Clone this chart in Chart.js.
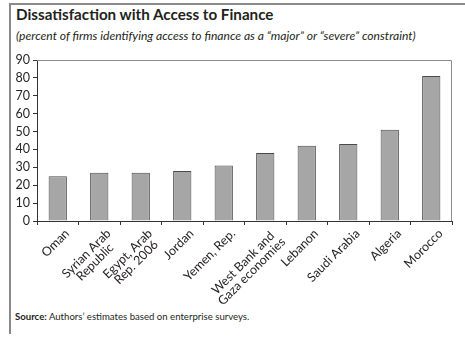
<!DOCTYPE html>
<html>
<head>
<meta charset="utf-8">
<script src="https://cdn.jsdelivr.net/npm/chart.js@4/dist/chart.umd.min.js"></script>
<style>
  html, body { margin: 0; padding: 0; background: #fff; }
  #wrap { position: relative; width: 465px; height: 341px; overflow: hidden; font-family: Lato, "Open Sans", sans-serif; color: #231f20; }
  #frameTop { position: absolute; left: 9px; top: 3px; width: 460px; height: 2px; background: #8a8a8a; }
  #frameLeft { position: absolute; left: 9px; top: 3px; width: 2px; height: 331px; background: #8a8a8a; }
  #title { position: absolute; left: 16px; top: 5px; font-weight: bold; font-size: 15.2px; white-space: nowrap; }
  #subtitle { position: absolute; left: 16px; top: 28px; font-style: italic; font-size: 12.1px; white-space: nowrap; }
  #source { position: absolute; left: 15px; top: 311px; font-size: 9.6px; white-space: nowrap; }
  canvas { position: absolute; left: 0; top: 0; }
</style>
</head>
<body>
<div id="wrap">
  <div id="frameTop"></div>
  <div id="frameLeft"></div>
  <div id="title">Dissatisfaction with Access to Finance</div>
  <div id="subtitle">(percent of firms identifying access to finance as a “major” or “severe” constraint)</div>
  <div id="source"><b>Source:</b> Authors’ estimates based on enterprise surveys.</div>
  <canvas id="c" width="465" height="341"></canvas>
</div>
<script>
const categories = [
  "Oman",
  ["Syrian Arab", "Republic"],
  ["Egypt, Arab", "Rep. 2006"],
  "Jordan",
  "Yemen, Rep.",
  ["West Bank and", "Gaza economies"],
  "Lebanon",
  "Saudi Arabia",
  "Algeria",
  "Morocco"
];
const values = [25, 27, 27, 28, 31, 38, 42, 43, 51, 81];
const yTicks = [0, 10, 20, 30, 40, 50, 60, 70, 80, 90];

const LABEL_FONT = '12.5px Lato, "Open Sans", sans-serif';

const frame = {
  id: 'frame',
  afterDraw(chart) {
    const a = chart.chartArea, ctx = chart.ctx;
    ctx.save();
    ctx.strokeStyle = '#8c8c8c';
    ctx.lineWidth = 1;
    ctx.beginPath();
    ctx.moveTo(a.left, a.top + 0.5);
    ctx.lineTo(a.right - 0.5, a.top + 0.5);
    ctx.lineTo(a.right - 0.5, a.bottom);
    ctx.stroke();
    ctx.restore();
  }
};

// Rotated category labels, lines centred within each label block
const xLabels = {
  id: 'xLabels',
  afterDraw(chart) {
    const xs = chart.scales.x, ctx = chart.ctx;
    const axisY = chart.chartArea.bottom;
    const labels = chart.data.labels;
    ctx.save();
    ctx.font = LABEL_FONT;
    ctx.fillStyle = '#231f20';
    ctx.textAlign = 'center';
    ctx.textBaseline = 'top';
    const lh = 12;
    labels.forEach((lab, i) => {
      const lines = Array.isArray(lab) ? lab : [lab];
      const w = Math.max(...lines.map(l => ctx.measureText(l).width));
      const x = xs.getPixelForTick(i);
      ctx.save();
      ctx.translate(x + 5, axisY + 6);
      ctx.rotate(-Math.PI / 4);
      lines.forEach((l, k) => ctx.fillText(l, -w / 2, k * lh));
      ctx.restore();
    });
    ctx.restore();
  }
};

new Chart(document.getElementById('c'), {
  type: 'bar',
  data: {
    labels: categories,
    datasets: [{
      data: values,
      backgroundColor: '#a6a6a6',
      borderColor: '#4a4a4a',
      borderWidth: 1,
      barPercentage: 0.44,
      categoryPercentage: 1
    }]
  },
  options: {
    responsive: false,
    animation: false,
    events: [],
    layout: { padding: { top: 60, right: 13, left: 0, bottom: 0 } },
    plugins: { legend: { display: false }, tooltip: { enabled: false } },
    scales: {
      x: {
        grid: { display: true, drawOnChartArea: false, tickLength: 4, color: '#333', offset: true },
        border: { color: '#333', width: 1 },
        ticks: { display: false },
        afterFit(scale) { scale.height = 120; }
      },
      y: {
        min: 0, max: 90,
        afterBuildTicks(scale) { scale.ticks = yTicks.map(v => ({ value: v })); },
        grid: { display: true, drawOnChartArea: false, tickLength: 4, color: '#333' },
        border: { color: '#333', width: 1 },
        ticks: {
          autoSkip: false,
          color: '#231f20', padding: 3,
          font: { family: 'Lato, "Open Sans", sans-serif', size: 12.5 }
        },
        afterFit(scale) { scale.width = 37; }
      }
    }
  },
  plugins: [frame, xLabels]
});
</script>
</body>
</html>
